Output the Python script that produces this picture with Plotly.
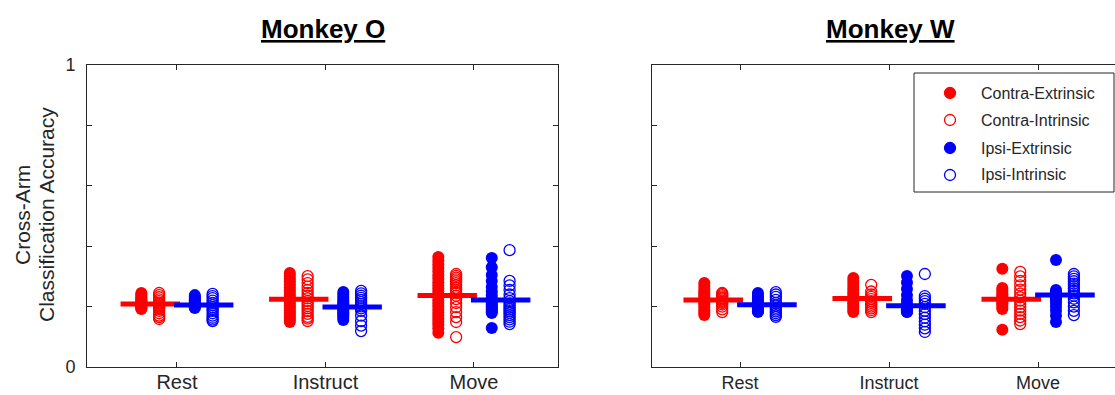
import numpy as np
import plotly.graph_objects as go

# Epochs shown on the x axis
EPOCHS = ["Rest", "Instruct", "Move"]

# Cross-arm classification accuracy per session, one list per epoch (Rest, Instruct, Move)
# Monkey O
O_CONTRA_EXT = [
    [0.245, 0.240, 0.235, 0.230, 0.226, 0.222, 0.218, 0.215, 0.212, 0.210, 0.207, 0.204, 0.200, 0.197, 0.194, 0.192],
    [0.311, 0.302, 0.292, 0.283, 0.273, 0.263, 0.254, 0.245, 0.236, 0.228, 0.220, 0.212, 0.204, 0.196, 0.188, 0.180, 0.172, 0.164, 0.156, 0.149],
    [0.364, 0.352, 0.340, 0.328, 0.316, 0.304, 0.292, 0.281, 0.270, 0.260, 0.250, 0.240, 0.230, 0.220, 0.210, 0.200, 0.190, 0.180, 0.170, 0.160, 0.150, 0.140, 0.128, 0.113],
]
O_CONTRA_INT = [
    [0.245, 0.238, 0.231, 0.224, 0.218, 0.213, 0.209, 0.205, 0.201, 0.197, 0.192, 0.186, 0.178, 0.170, 0.165, 0.159],
    [0.301, 0.290, 0.278, 0.266, 0.255, 0.245, 0.236, 0.227, 0.218, 0.210, 0.202, 0.194, 0.185, 0.176, 0.166, 0.160, 0.152],
    [0.308, 0.302, 0.296, 0.290, 0.284, 0.278, 0.270, 0.262, 0.254, 0.245, 0.236, 0.225, 0.212, 0.198, 0.182, 0.165, 0.149, 0.099],
]
O_IPSI_EXT = [
    [0.238, 0.233, 0.229, 0.225, 0.222, 0.219, 0.216, 0.213, 0.210, 0.207, 0.204, 0.201, 0.198, 0.195],
    [0.248, 0.240, 0.232, 0.225, 0.218, 0.211, 0.205, 0.199, 0.193, 0.187, 0.181, 0.175, 0.169, 0.163, 0.156],
    [0.361, 0.330, 0.305, 0.285, 0.265, 0.250, 0.238, 0.228, 0.220, 0.213, 0.207, 0.201, 0.196, 0.191, 0.186, 0.182, 0.179, 0.129],
]
O_IPSI_INT = [
    [0.242, 0.235, 0.228, 0.220, 0.212, 0.205, 0.198, 0.192, 0.186, 0.178, 0.170, 0.163, 0.157, 0.152],
    [0.252, 0.244, 0.236, 0.229, 0.222, 0.215, 0.208, 0.201, 0.194, 0.186, 0.170, 0.152, 0.137, 0.119],
    [0.387, 0.285, 0.270, 0.255, 0.240, 0.228, 0.218, 0.210, 0.203, 0.197, 0.191, 0.185, 0.179, 0.172, 0.165, 0.158, 0.150, 0.142],
]

# Monkey W
W_CONTRA_EXT = [
    [0.278, 0.268, 0.258, 0.250, 0.243, 0.236, 0.230, 0.224, 0.218, 0.212, 0.205, 0.197, 0.188, 0.180, 0.172],
    [0.295, 0.285, 0.275, 0.265, 0.256, 0.247, 0.239, 0.231, 0.224, 0.217, 0.210, 0.203, 0.196, 0.189, 0.182],
    [0.325, 0.262, 0.255, 0.248, 0.241, 0.235, 0.229, 0.223, 0.217, 0.211, 0.205, 0.199, 0.192, 0.123],
]
W_CONTRA_INT = [
    [0.245, 0.242, 0.238, 0.234, 0.230, 0.227, 0.224, 0.220, 0.216, 0.212, 0.207, 0.200, 0.191, 0.182],
    [0.272, 0.250, 0.240, 0.232, 0.225, 0.218, 0.212, 0.206, 0.200, 0.194, 0.188, 0.182],
    [0.315, 0.300, 0.285, 0.270, 0.256, 0.243, 0.231, 0.220, 0.209, 0.198, 0.187, 0.176, 0.165, 0.154, 0.142],
]
W_IPSI_EXT = [
    [0.245, 0.238, 0.231, 0.224, 0.217, 0.211, 0.206, 0.201, 0.197, 0.193, 0.189, 0.185, 0.182],
    [0.301, 0.280, 0.258, 0.238, 0.222, 0.210, 0.201, 0.195, 0.191, 0.188, 0.186, 0.184, 0.183, 0.182],
    [0.354, 0.255, 0.251, 0.247, 0.243, 0.239, 0.234, 0.228, 0.221, 0.212, 0.200, 0.186, 0.170, 0.149],
]
W_IPSI_INT = [
    [0.248, 0.240, 0.232, 0.222, 0.212, 0.203, 0.196, 0.190, 0.184, 0.178, 0.172, 0.166],
    [0.308, 0.235, 0.226, 0.218, 0.209, 0.198, 0.186, 0.175, 0.163, 0.151, 0.140, 0.128, 0.116],
    [0.308, 0.300, 0.292, 0.284, 0.276, 0.268, 0.260, 0.252, 0.244, 0.236, 0.226, 0.214, 0.200, 0.186, 0.172],
]

W_PX, H_PX = 1115, 395
RED, BLUE = "#ff0000", "#0000ff"
AX_COLOR = "#262626"
FONT = "Liberation Sans, Arial, Helvetica, sans-serif"

# horizontal offsets of each column from the epoch position
OFF_EXT, OFF_INT = 0.24, 0.12
MEAN_CENTER, MEAN_HALF = 0.18, 0.20


def px_x(p):
    return p / W_PX


def px_y(p):
    return 1 - p / H_PX


fig = go.Figure()


def add_panel(xref, yref, contra_ext, contra_int, ipsi_ext, ipsi_int):
    for k, _ in enumerate(EPOCHS):
        c = k + 1
        groups = [
            (contra_ext[k], c - OFF_EXT, RED, True),
            (contra_int[k], c - OFF_INT, RED, False),
            (ipsi_ext[k], c + OFF_INT, BLUE, True),
            (ipsi_int[k], c + OFF_EXT, BLUE, False),
        ]
        for vals, xpos, col, filled in groups:
            marker = (dict(symbol="circle", size=12, color=col, line=dict(width=0))
                      if filled else
                      dict(symbol="circle-open", size=11, color=col, line=dict(width=1.3, color=col)))
            fig.add_trace(go.Scatter(
                x=[xpos] * len(vals), y=vals, mode="markers", marker=marker,
                xaxis=xref, yaxis=yref, showlegend=False, hoverinfo="y"))
        # mean of the contralateral and ipsilateral sessions
        for side, vals, col in ((-1, contra_ext[k] + contra_int[k], RED),
                                (1, ipsi_ext[k] + ipsi_int[k], BLUE)):
            m = float(np.mean(vals))
            xc = c + side * MEAN_CENTER
            fig.add_trace(go.Scatter(
                x=[xc - MEAN_HALF, xc + MEAN_HALF], y=[m, m], mode="lines",
                line=dict(color=col, width=5), xaxis=xref, yaxis=yref,
                showlegend=False, hoverinfo="skip"))


add_panel("x", "y", O_CONTRA_EXT, O_CONTRA_INT, O_IPSI_EXT, O_IPSI_INT)
add_panel("x2", "y2", W_CONTRA_EXT, W_CONTRA_INT, W_IPSI_EXT, W_IPSI_INT)

Y0, Y1 = 367, 65
common_x = dict(
    tickmode="array", tickvals=[1, 2, 3], ticktext=EPOCHS,
    ticks="inside", ticklen=5, tickcolor=AX_COLOR, tickwidth=1,
    showline=True, linecolor=AX_COLOR, linewidth=1, showgrid=False, zeroline=False,
    automargin=False,
)
common_y = dict(
    range=[0, 1], tickmode="array", tickvals=[0, 0.2, 0.4, 0.6, 0.8, 1],
    ticks="inside", ticklen=5, tickcolor=AX_COLOR, tickwidth=1,
    showline=True, linecolor=AX_COLOR, linewidth=1, showgrid=False, zeroline=False,
    automargin=False,
)

fig.update_layout(
    width=W_PX, height=H_PX,
    margin=dict(l=0, r=0, t=0, b=0, pad=0),
    paper_bgcolor="white", plot_bgcolor="white",
    showlegend=False,
    xaxis=dict(common_x, domain=[px_x(87), px_x(558)], range=[0.394, 3.566],
               mirror="ticks", anchor="y", ticklabelstandoff=-3,
               tickfont=dict(family=FONT, color=AX_COLOR, size=20)),
    yaxis=dict(common_y, domain=[px_y(Y0), px_y(Y1)], mirror="ticks", anchor="x",
               ticktext=["0", "", "", "", "", "1"], ticklabelstandoff=7,
               tickfont=dict(family=FONT, color=AX_COLOR, size=18)),
    xaxis2=dict(common_x, domain=[px_x(652), 1.0], range=[0.409, 3.516],
                mirror="ticks", anchor="y2", ticklabelstandoff=-1,
                tickfont=dict(family=FONT, color=AX_COLOR, size=18)),
    yaxis2=dict(common_y, domain=[px_y(Y0), px_y(Y1)], anchor="x2", mirror=False,
                ticktext=["", "", "", "", "", ""]),
)

annotations = []
# panel titles
for label, cx in (("Monkey O", 323), ("Monkey W", 890)):
    annotations.append(dict(
        text="<b>" + label + "</b>", x=px_x(cx), y=px_y(29), xref="paper", yref="paper",
        xanchor="center", yanchor="middle", showarrow=False,
        font=dict(family=FONT, size=26, color="black", lineposition="under")))

# y axis title (two lines)
for line_text, cx in (("Cross-Arm", 22), ("Classification Accuracy", 46)):
    annotations.append(dict(
        text=line_text, x=px_x(cx), y=px_y(215),
        xref="paper", yref="paper", xanchor="center", yanchor="middle",
        textangle=-90, showarrow=False, font=dict(family=FONT, size=21, color=AX_COLOR)))

# legend in the Monkey W panel
LEG_ITEMS = [("Contra-Extrinsic", RED, True), ("Contra-Intrinsic", RED, False),
             ("Ipsi-Extrinsic", BLUE, True), ("Ipsi-Intrinsic", BLUE, False)]
LEG_ROWS = [93, 120, 148, 175]
shapes = [dict(type="rect", xref="paper", yref="paper",
               x0=px_x(914), x1=px_x(1114), y0=px_y(192), y1=px_y(73),
               line=dict(color=AX_COLOR, width=1), fillcolor="white", layer="above")]
for (name, col, filled), row in zip(LEG_ITEMS, LEG_ROWS):
    shapes.append(dict(
        type="circle", xref="paper", yref="paper", xsizemode="pixel", ysizemode="pixel",
        xanchor=px_x(950), yanchor=px_y(row), x0=-5.5, x1=5.5, y0=-5.5, y1=5.5,
        line=dict(color=col, width=1.3), fillcolor=col if filled else "white", layer="above"))
    annotations.append(dict(
        text=name, x=px_x(979), y=px_y(row), xref="paper", yref="paper",
        xanchor="left", yanchor="middle", showarrow=False,
        font=dict(family=FONT, size=16, color=AX_COLOR)))

fig.update_layout(annotations=annotations, shapes=shapes)

fig.write_html("out.html")
